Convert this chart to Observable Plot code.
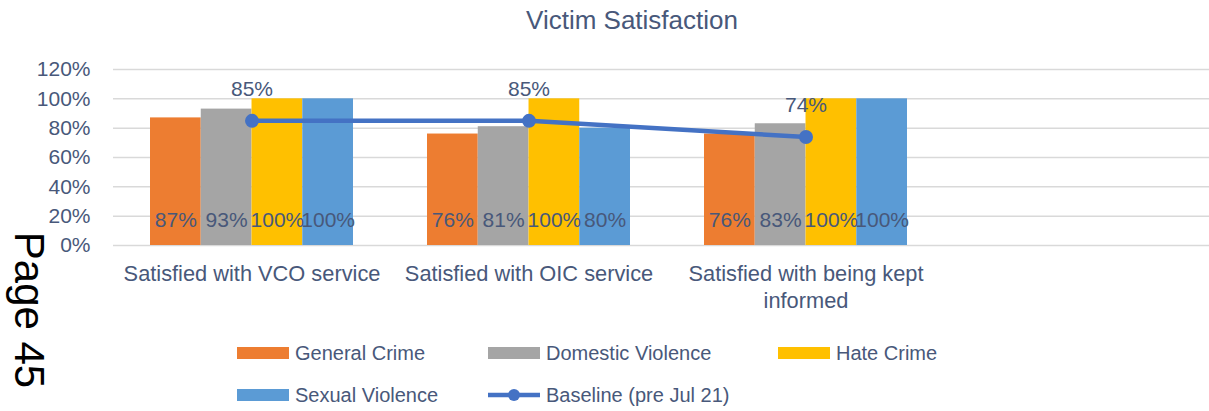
<!DOCTYPE html>
<html>
<head>
<meta charset="utf-8">
<script src="https://cdn.jsdelivr.net/npm/d3@7"></script>
<script src="https://cdn.jsdelivr.net/npm/@observablehq/plot@0.6"></script>
<style>
  html, body { margin: 0; padding: 0; background: #fff; }
  #wrap { position: relative; width: 1209px; height: 411px; overflow: hidden; font-family: "Liberation Sans", Arial, sans-serif; color: #48587A; }
  #title { position: absolute; top: 5px; left: 632px; transform: translateX(-50%); font-size: 26px; white-space: nowrap; line-height: 30px; }
  #chart { position: absolute; top: 0; left: 0; }
  #legend { position: absolute; left: 237px; top: 341px; display: grid; grid-template-columns: 251px 290px auto; row-gap: 18px; font-size: 20px; line-height: 24px; }
  .item { display: flex; align-items: center; white-space: nowrap; }
  .sw { width: 52px; height: 12px; margin-right: 6px; }
  .lsw { width: 52px; height: 14px; margin-right: 6px; }
  #page { position: absolute; left: 29px; top: 310px; transform: translate(-50%, -50%) rotate(90deg); font-size: 42px; color: #000; white-space: nowrap; font-family: "Liberation Sans", Arial, sans-serif; }
</style>
</head>
<body>
<div id="wrap">
  <div id="chart"></div>
  <div id="title"></div>
  <div id="legend"></div>
  <div id="page">Page 45</div>
</div>
<script>
const chartTitle = "Victim Satisfaction";
const categories = ["Satisfied with VCO service", "Satisfied with OIC service", "Satisfied with being kept informed"];
const tickLabels = ["Satisfied with VCO service", "Satisfied with OIC service", "Satisfied with being kept\ninformed"];
const seriesNames = ["General Crime", "Domestic Violence", "Hate Crime", "Sexual Violence"];
const generalCrime = [87, 76, 76];
const domesticViolence = [93, 81, 83];
const hateCrime = [100, 100, 100];
const sexualViolence = [100, 80, 100];
const baselineName = "Baseline (pre Jul 21)";
const baseline = [85, 85, 74];
const yTicks = [0, 20, 40, 60, 80, 100, 120];
const seriesColors = ["#ED7D31", "#A5A5A5", "#FFC000", "#5B9BD5"];
const lineColor = "#4472C4";
const textColor = "#48587A";

const seriesValues = [generalCrime, domesticViolence, hateCrime, sexualViolence];
const emptySlot = "\u00a0";
const xDomain = [...categories, emptySlot];
const xRange = [113, 1221];
const pad = 0.267;
const bandwidth = (xRange[1] - xRange[0]) / xDomain.length * (1 - pad);
const barW = bandwidth / seriesNames.length;

const marks = [Plot.ruleY(yTicks, {stroke: "#D9D9D9", strokeWidth: 1.5})];

seriesNames.forEach((name, s) => {
  const rows = categories.map((c, i) => ({category: c, value: seriesValues[s][i]}));
  marks.push(Plot.barY(rows, {
    x: "category", y: "value", fill: seriesColors[s],
    insetLeft: s * barW, insetRight: (seriesNames.length - 1 - s) * barW
  }));
});
seriesNames.forEach((name, s) => {
  const rows = categories.map((c, i) => ({category: c, value: seriesValues[s][i]}));
  marks.push(Plot.text(rows, {
    x: "category", y: () => 0, text: d => d.value + "%",
    dx: -bandwidth / 2 + (s + 0.5) * barW, dy: -25,
    fill: textColor, fontSize: 21, lineAnchor: "middle"
  }));
});

const baseRows = categories.map((c, i) => ({category: c, value: baseline[i]}));
marks.push(Plot.line(baseRows, {x: "category", y: "value", stroke: lineColor, strokeWidth: 4.5}));
marks.push(Plot.dot(baseRows, {x: "category", y: "value", fill: lineColor, r: 7}));
marks.push(Plot.text(baseRows, {x: "category", y: "value", text: d => d.value + "%", dy: -32, fill: textColor, fontSize: 21, lineAnchor: "middle"}));

marks.push(Plot.axisY({ticks: yTicks, tickFormat: d => d + "%", tickSize: 0, tickPadding: 23, fontSize: 21, label: null}));
marks.push(Plot.axisX({ticks: categories, tickFormat: d => tickLabels[categories.indexOf(d)], tickSize: 0, tickPadding: 16, fontSize: 21.8, lineHeight: 1.25, label: null}));

const chart = Plot.plot({
  width: 1209,
  height: 320,
  marginTop: 69,
  marginBottom: 75,
  marginLeft: 113,
  marginRight: 0,
  style: {fontFamily: "'Liberation Sans', Arial, sans-serif", fontSize: "21px", color: textColor, background: "transparent"},
  x: {type: "band", domain: xDomain, range: xRange, paddingInner: pad, paddingOuter: pad / 2, align: 0.5},
  y: {domain: [0, 120], label: null},
  marks
});
document.getElementById("chart").appendChild(chart);
document.getElementById("title").textContent = chartTitle;

const legend = document.getElementById("legend");
const legendOrder = [0, 1, 2, 3];
legendOrder.forEach(s => {
  const item = document.createElement("div");
  item.className = "item";
  item.innerHTML = `<span class="sw" style="background:${seriesColors[s]}"></span><span>${seriesNames[s]}</span>`;
  legend.appendChild(item);
});
const li = document.createElement("div");
li.className = "item";
li.innerHTML = `<svg class="lsw" width="52" height="14"><line x1="0" x2="52" y1="7" y2="7" stroke="${lineColor}" stroke-width="4.5"/><circle cx="26" cy="7" r="6" fill="${lineColor}"/></svg><span>${baselineName}</span>`;
legend.appendChild(li);
</script>
</body>
</html>
